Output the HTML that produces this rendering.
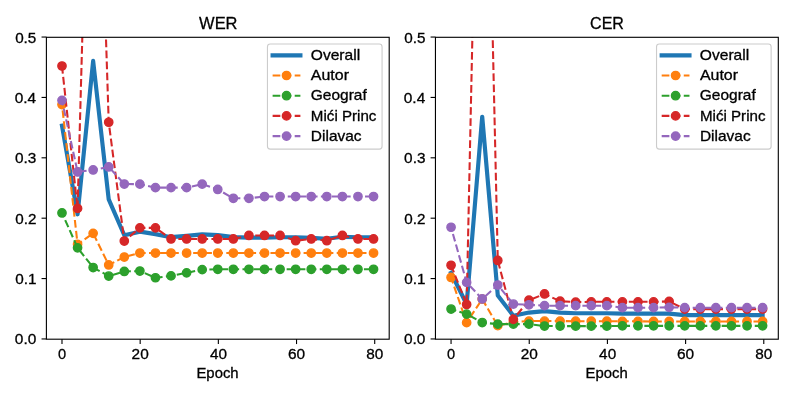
<!DOCTYPE html>
<html><head><meta charset="utf-8"><style>
html,body{margin:0;padding:0;background:#fff;width:793px;height:397px;overflow:hidden}
svg{display:block;font-family:"Liberation Sans",sans-serif;will-change:transform}
</style></head><body>
<svg width="793" height="397" viewBox="0 0 793 397" font-family="Liberation Sans, sans-serif"><rect width="793" height="397" fill="#fff"/><clipPath id="c1"><rect x="46.33" y="37.00" width="342.67" height="301.95"/></clipPath>
<g clip-path="url(#c1)">
<path d="M61.99 125.70 L77.57 214.28 L93.14 60.86 L108.72 199.43 L124.30 235.29 L139.88 231.67 L155.45 234.09 L171.03 237.17 L186.61 235.84 L202.19 234.39 L217.76 235.17 L233.34 237.17 L248.92 237.65 L264.50 237.65 L280.07 237.23 L295.65 237.23 L311.23 237.83 L326.81 238.74 L342.38 236.80 L357.96 237.23 L373.54 237.23" fill="none" stroke="#1f77b4" stroke-width="4.167" stroke-linecap="square" stroke-linejoin="round"/>
<path d="M61.99 104.57 L77.57 244.35 L93.14 233.36 L108.72 264.94 L124.30 257.03 L139.88 253.05 L155.45 253.05 L171.03 253.05 L186.61 253.05 L202.19 253.05 L217.76 253.05 L233.34 253.05 L248.92 253.05 L264.50 253.05 L280.07 253.05 L295.65 253.05 L311.23 253.05 L326.81 253.05 L342.38 253.05 L357.96 253.05 L373.54 253.05" fill="none" stroke="#ff7f0e" stroke-width="2.083" stroke-dasharray="7.708 3.333" stroke-dashoffset="5.30" stroke-linecap="butt" stroke-linejoin="round"/>
<circle cx="61.99" cy="104.57" r="4.167" fill="#ff7f0e" stroke="#ff7f0e" stroke-width="1.389"/>
<circle cx="77.57" cy="244.35" r="4.167" fill="#ff7f0e" stroke="#ff7f0e" stroke-width="1.389"/>
<circle cx="93.14" cy="233.36" r="4.167" fill="#ff7f0e" stroke="#ff7f0e" stroke-width="1.389"/>
<circle cx="108.72" cy="264.94" r="4.167" fill="#ff7f0e" stroke="#ff7f0e" stroke-width="1.389"/>
<circle cx="124.30" cy="257.03" r="4.167" fill="#ff7f0e" stroke="#ff7f0e" stroke-width="1.389"/>
<circle cx="139.88" cy="253.05" r="4.167" fill="#ff7f0e" stroke="#ff7f0e" stroke-width="1.389"/>
<circle cx="155.45" cy="253.05" r="4.167" fill="#ff7f0e" stroke="#ff7f0e" stroke-width="1.389"/>
<circle cx="171.03" cy="253.05" r="4.167" fill="#ff7f0e" stroke="#ff7f0e" stroke-width="1.389"/>
<circle cx="186.61" cy="253.05" r="4.167" fill="#ff7f0e" stroke="#ff7f0e" stroke-width="1.389"/>
<circle cx="202.19" cy="253.05" r="4.167" fill="#ff7f0e" stroke="#ff7f0e" stroke-width="1.389"/>
<circle cx="217.76" cy="253.05" r="4.167" fill="#ff7f0e" stroke="#ff7f0e" stroke-width="1.389"/>
<circle cx="233.34" cy="253.05" r="4.167" fill="#ff7f0e" stroke="#ff7f0e" stroke-width="1.389"/>
<circle cx="248.92" cy="253.05" r="4.167" fill="#ff7f0e" stroke="#ff7f0e" stroke-width="1.389"/>
<circle cx="264.50" cy="253.05" r="4.167" fill="#ff7f0e" stroke="#ff7f0e" stroke-width="1.389"/>
<circle cx="280.07" cy="253.05" r="4.167" fill="#ff7f0e" stroke="#ff7f0e" stroke-width="1.389"/>
<circle cx="295.65" cy="253.05" r="4.167" fill="#ff7f0e" stroke="#ff7f0e" stroke-width="1.389"/>
<circle cx="311.23" cy="253.05" r="4.167" fill="#ff7f0e" stroke="#ff7f0e" stroke-width="1.389"/>
<circle cx="326.81" cy="253.05" r="4.167" fill="#ff7f0e" stroke="#ff7f0e" stroke-width="1.389"/>
<circle cx="342.38" cy="253.05" r="4.167" fill="#ff7f0e" stroke="#ff7f0e" stroke-width="1.389"/>
<circle cx="357.96" cy="253.05" r="4.167" fill="#ff7f0e" stroke="#ff7f0e" stroke-width="1.389"/>
<circle cx="373.54" cy="253.05" r="4.167" fill="#ff7f0e" stroke="#ff7f0e" stroke-width="1.389"/>
<path d="M61.99 212.95 L77.57 247.85 L93.14 267.54 L108.72 276.05 L124.30 271.46 L139.88 271.04 L155.45 277.74 L171.03 275.93 L186.61 272.85 L202.19 269.65 L217.76 269.29 L233.34 269.29 L248.92 269.29 L264.50 269.29 L280.07 269.29 L295.65 269.29 L311.23 269.29 L326.81 269.29 L342.38 269.29 L357.96 269.29 L373.54 269.29" fill="none" stroke="#2ca02c" stroke-width="2.083" stroke-dasharray="7.708 3.333" stroke-dashoffset="3.20" stroke-linecap="butt" stroke-linejoin="round"/>
<circle cx="61.99" cy="212.95" r="4.167" fill="#2ca02c" stroke="#2ca02c" stroke-width="1.389"/>
<circle cx="77.57" cy="247.85" r="4.167" fill="#2ca02c" stroke="#2ca02c" stroke-width="1.389"/>
<circle cx="93.14" cy="267.54" r="4.167" fill="#2ca02c" stroke="#2ca02c" stroke-width="1.389"/>
<circle cx="108.72" cy="276.05" r="4.167" fill="#2ca02c" stroke="#2ca02c" stroke-width="1.389"/>
<circle cx="124.30" cy="271.46" r="4.167" fill="#2ca02c" stroke="#2ca02c" stroke-width="1.389"/>
<circle cx="139.88" cy="271.04" r="4.167" fill="#2ca02c" stroke="#2ca02c" stroke-width="1.389"/>
<circle cx="155.45" cy="277.74" r="4.167" fill="#2ca02c" stroke="#2ca02c" stroke-width="1.389"/>
<circle cx="171.03" cy="275.93" r="4.167" fill="#2ca02c" stroke="#2ca02c" stroke-width="1.389"/>
<circle cx="186.61" cy="272.85" r="4.167" fill="#2ca02c" stroke="#2ca02c" stroke-width="1.389"/>
<circle cx="202.19" cy="269.65" r="4.167" fill="#2ca02c" stroke="#2ca02c" stroke-width="1.389"/>
<circle cx="217.76" cy="269.29" r="4.167" fill="#2ca02c" stroke="#2ca02c" stroke-width="1.389"/>
<circle cx="233.34" cy="269.29" r="4.167" fill="#2ca02c" stroke="#2ca02c" stroke-width="1.389"/>
<circle cx="248.92" cy="269.29" r="4.167" fill="#2ca02c" stroke="#2ca02c" stroke-width="1.389"/>
<circle cx="264.50" cy="269.29" r="4.167" fill="#2ca02c" stroke="#2ca02c" stroke-width="1.389"/>
<circle cx="280.07" cy="269.29" r="4.167" fill="#2ca02c" stroke="#2ca02c" stroke-width="1.389"/>
<circle cx="295.65" cy="269.29" r="4.167" fill="#2ca02c" stroke="#2ca02c" stroke-width="1.389"/>
<circle cx="311.23" cy="269.29" r="4.167" fill="#2ca02c" stroke="#2ca02c" stroke-width="1.389"/>
<circle cx="326.81" cy="269.29" r="4.167" fill="#2ca02c" stroke="#2ca02c" stroke-width="1.389"/>
<circle cx="342.38" cy="269.29" r="4.167" fill="#2ca02c" stroke="#2ca02c" stroke-width="1.389"/>
<circle cx="357.96" cy="269.29" r="4.167" fill="#2ca02c" stroke="#2ca02c" stroke-width="1.389"/>
<circle cx="373.54" cy="269.29" r="4.167" fill="#2ca02c" stroke="#2ca02c" stroke-width="1.389"/>
<path d="M61.99 65.99 L77.57 208.43 L83.36 -1.00" fill="none" stroke="#d62728" stroke-width="2.083" stroke-dasharray="7.708 3.333" stroke-dashoffset="0.00" stroke-linecap="butt" stroke-linejoin="round"/>
<path d="M104.70 -1.00 L108.72 122.26 L124.30 241.03 L139.88 227.87 L155.45 227.87 L171.03 238.98 L186.61 238.98 L202.19 238.98 L217.76 238.98 L233.34 238.98 L248.92 235.48 L264.50 235.48 L280.07 235.48 L295.65 240.73 L311.23 238.98 L326.81 240.73 L342.38 235.48 L357.96 238.98 L373.54 238.98" fill="none" stroke="#d62728" stroke-width="2.083" stroke-dasharray="7.708 3.333" stroke-dashoffset="3.64" stroke-linecap="butt" stroke-linejoin="round"/>
<circle cx="61.99" cy="65.99" r="4.167" fill="#d62728" stroke="#d62728" stroke-width="1.389"/>
<circle cx="77.57" cy="208.43" r="4.167" fill="#d62728" stroke="#d62728" stroke-width="1.389"/>
<circle cx="108.72" cy="122.26" r="4.167" fill="#d62728" stroke="#d62728" stroke-width="1.389"/>
<circle cx="124.30" cy="241.03" r="4.167" fill="#d62728" stroke="#d62728" stroke-width="1.389"/>
<circle cx="139.88" cy="227.87" r="4.167" fill="#d62728" stroke="#d62728" stroke-width="1.389"/>
<circle cx="155.45" cy="227.87" r="4.167" fill="#d62728" stroke="#d62728" stroke-width="1.389"/>
<circle cx="171.03" cy="238.98" r="4.167" fill="#d62728" stroke="#d62728" stroke-width="1.389"/>
<circle cx="186.61" cy="238.98" r="4.167" fill="#d62728" stroke="#d62728" stroke-width="1.389"/>
<circle cx="202.19" cy="238.98" r="4.167" fill="#d62728" stroke="#d62728" stroke-width="1.389"/>
<circle cx="217.76" cy="238.98" r="4.167" fill="#d62728" stroke="#d62728" stroke-width="1.389"/>
<circle cx="233.34" cy="238.98" r="4.167" fill="#d62728" stroke="#d62728" stroke-width="1.389"/>
<circle cx="248.92" cy="235.48" r="4.167" fill="#d62728" stroke="#d62728" stroke-width="1.389"/>
<circle cx="264.50" cy="235.48" r="4.167" fill="#d62728" stroke="#d62728" stroke-width="1.389"/>
<circle cx="280.07" cy="235.48" r="4.167" fill="#d62728" stroke="#d62728" stroke-width="1.389"/>
<circle cx="295.65" cy="240.73" r="4.167" fill="#d62728" stroke="#d62728" stroke-width="1.389"/>
<circle cx="311.23" cy="238.98" r="4.167" fill="#d62728" stroke="#d62728" stroke-width="1.389"/>
<circle cx="326.81" cy="240.73" r="4.167" fill="#d62728" stroke="#d62728" stroke-width="1.389"/>
<circle cx="342.38" cy="235.48" r="4.167" fill="#d62728" stroke="#d62728" stroke-width="1.389"/>
<circle cx="357.96" cy="238.98" r="4.167" fill="#d62728" stroke="#d62728" stroke-width="1.389"/>
<circle cx="373.54" cy="238.98" r="4.167" fill="#d62728" stroke="#d62728" stroke-width="1.389"/>
<path d="M61.99 100.35 L77.57 171.96 L93.14 169.96 L108.72 166.94 L124.30 184.03 L139.88 184.15 L155.45 187.65 L171.03 187.65 L186.61 187.65 L202.19 184.15 L217.76 189.47 L233.34 198.28 L248.92 198.28 L264.50 196.53 L280.07 196.53 L295.65 196.53 L311.23 196.53 L326.81 196.53 L342.38 196.53 L357.96 196.53 L373.54 196.53" fill="none" stroke="#9467bd" stroke-width="2.083" stroke-dasharray="7.708 3.333" stroke-dashoffset="2.60" stroke-linecap="butt" stroke-linejoin="round"/>
<circle cx="61.99" cy="100.35" r="4.167" fill="#9467bd" stroke="#9467bd" stroke-width="1.389"/>
<circle cx="77.57" cy="171.96" r="4.167" fill="#9467bd" stroke="#9467bd" stroke-width="1.389"/>
<circle cx="93.14" cy="169.96" r="4.167" fill="#9467bd" stroke="#9467bd" stroke-width="1.389"/>
<circle cx="108.72" cy="166.94" r="4.167" fill="#9467bd" stroke="#9467bd" stroke-width="1.389"/>
<circle cx="124.30" cy="184.03" r="4.167" fill="#9467bd" stroke="#9467bd" stroke-width="1.389"/>
<circle cx="139.88" cy="184.15" r="4.167" fill="#9467bd" stroke="#9467bd" stroke-width="1.389"/>
<circle cx="155.45" cy="187.65" r="4.167" fill="#9467bd" stroke="#9467bd" stroke-width="1.389"/>
<circle cx="171.03" cy="187.65" r="4.167" fill="#9467bd" stroke="#9467bd" stroke-width="1.389"/>
<circle cx="186.61" cy="187.65" r="4.167" fill="#9467bd" stroke="#9467bd" stroke-width="1.389"/>
<circle cx="202.19" cy="184.15" r="4.167" fill="#9467bd" stroke="#9467bd" stroke-width="1.389"/>
<circle cx="217.76" cy="189.47" r="4.167" fill="#9467bd" stroke="#9467bd" stroke-width="1.389"/>
<circle cx="233.34" cy="198.28" r="4.167" fill="#9467bd" stroke="#9467bd" stroke-width="1.389"/>
<circle cx="248.92" cy="198.28" r="4.167" fill="#9467bd" stroke="#9467bd" stroke-width="1.389"/>
<circle cx="264.50" cy="196.53" r="4.167" fill="#9467bd" stroke="#9467bd" stroke-width="1.389"/>
<circle cx="280.07" cy="196.53" r="4.167" fill="#9467bd" stroke="#9467bd" stroke-width="1.389"/>
<circle cx="295.65" cy="196.53" r="4.167" fill="#9467bd" stroke="#9467bd" stroke-width="1.389"/>
<circle cx="311.23" cy="196.53" r="4.167" fill="#9467bd" stroke="#9467bd" stroke-width="1.389"/>
<circle cx="326.81" cy="196.53" r="4.167" fill="#9467bd" stroke="#9467bd" stroke-width="1.389"/>
<circle cx="342.38" cy="196.53" r="4.167" fill="#9467bd" stroke="#9467bd" stroke-width="1.389"/>
<circle cx="357.96" cy="196.53" r="4.167" fill="#9467bd" stroke="#9467bd" stroke-width="1.389"/>
<circle cx="373.54" cy="196.53" r="4.167" fill="#9467bd" stroke="#9467bd" stroke-width="1.389"/>
</g>
<rect x="46.40" y="37.30" width="342.80" height="301.90" fill="none" stroke="#000" stroke-width="1.111" stroke-linejoin="miter"/>
<line x1="41.54" y1="338.95" x2="46.40" y2="338.95" stroke="#000" stroke-width="1.111"/>
<text x="14.85" y="344.45" font-size="15.14" textLength="21.46" lengthAdjust="spacingAndGlyphs" fill="#000" stroke="#000" stroke-width="0.3">0.0</text>
<line x1="41.54" y1="278.57" x2="46.40" y2="278.57" stroke="#000" stroke-width="1.111"/>
<text x="15.21" y="284.07" font-size="15.14" textLength="21.23" lengthAdjust="spacingAndGlyphs" fill="#000" stroke="#000" stroke-width="0.3">0.1</text>
<line x1="41.54" y1="218.19" x2="46.40" y2="218.19" stroke="#000" stroke-width="1.111"/>
<text x="15.32" y="223.69" font-size="15.14" textLength="21.14" lengthAdjust="spacingAndGlyphs" fill="#000" stroke="#000" stroke-width="0.3">0.2</text>
<line x1="41.54" y1="157.81" x2="46.40" y2="157.81" stroke="#000" stroke-width="1.111"/>
<text x="15.04" y="163.31" font-size="15.14" textLength="21.33" lengthAdjust="spacingAndGlyphs" fill="#000" stroke="#000" stroke-width="0.3">0.3</text>
<line x1="41.54" y1="97.43" x2="46.40" y2="97.43" stroke="#000" stroke-width="1.111"/>
<text x="14.70" y="102.93" font-size="15.14" textLength="21.45" lengthAdjust="spacingAndGlyphs" fill="#000" stroke="#000" stroke-width="0.3">0.4</text>
<line x1="41.54" y1="37.05" x2="46.40" y2="37.05" stroke="#000" stroke-width="1.111"/>
<text x="15.15" y="42.55" font-size="15.14" textLength="21.19" lengthAdjust="spacingAndGlyphs" fill="#000" stroke="#000" stroke-width="0.3">0.5</text>
<line x1="61.99" y1="339.20" x2="61.99" y2="344.06" stroke="#000" stroke-width="1.111"/>
<text x="58.02" y="359.20" font-size="15.14" textLength="8.14" lengthAdjust="spacingAndGlyphs" fill="#000" stroke="#000" stroke-width="0.3">0</text>
<line x1="140.17" y1="339.20" x2="140.17" y2="344.06" stroke="#000" stroke-width="1.111"/>
<text x="131.63" y="359.20" font-size="15.14" textLength="17.11" lengthAdjust="spacingAndGlyphs" fill="#000" stroke="#000" stroke-width="0.3">20</text>
<line x1="218.35" y1="339.20" x2="218.35" y2="344.06" stroke="#000" stroke-width="1.111"/>
<text x="210.06" y="359.20" font-size="15.14" textLength="17.02" lengthAdjust="spacingAndGlyphs" fill="#000" stroke="#000" stroke-width="0.3">40</text>
<line x1="296.53" y1="339.20" x2="296.53" y2="344.06" stroke="#000" stroke-width="1.111"/>
<text x="287.96" y="359.20" font-size="15.14" textLength="17.17" lengthAdjust="spacingAndGlyphs" fill="#000" stroke="#000" stroke-width="0.3">60</text>
<line x1="374.71" y1="339.20" x2="374.71" y2="344.06" stroke="#000" stroke-width="1.111"/>
<text x="366.24" y="359.20" font-size="15.14" textLength="17.07" lengthAdjust="spacingAndGlyphs" fill="#000" stroke="#000" stroke-width="0.3">80</text>
<text x="196.45" y="378.00" font-size="14.72" textLength="42.17" lengthAdjust="spacingAndGlyphs" fill="#000" stroke="#000" stroke-width="0.3">Epoch</text>
<text x="199.11" y="28.60" font-size="17.00" textLength="38.39" lengthAdjust="spacingAndGlyphs" fill="#000" stroke="#000" stroke-width="0.3">WER</text>
<rect x="267.46" y="43.94" width="114.60" height="105.16" rx="2.8" ry="2.8" fill="#fff" fill-opacity="0.8" stroke="#cccccc" stroke-width="1.111"/>
<line x1="272.62" y1="55.30" x2="300.40" y2="55.30" stroke="#1f77b4" stroke-width="4.167" stroke-linecap="square"/>
<text x="310.80" y="59.90" font-size="14.31" textLength="49.33" lengthAdjust="spacingAndGlyphs" fill="#000" stroke="#000" stroke-width="0.3">Overall</text>
<line x1="272.62" y1="75.50" x2="300.40" y2="75.50" stroke="#ff7f0e" stroke-width="2.083" stroke-dasharray="7.708 3.333"/>
<circle cx="286.51" cy="75.50" r="4.167" fill="#ff7f0e" stroke="#ff7f0e" stroke-width="1.389"/>
<text x="310.84" y="80.10" font-size="14.31" textLength="38.14" lengthAdjust="spacingAndGlyphs" fill="#000" stroke="#000" stroke-width="0.3">Autor</text>
<line x1="272.62" y1="95.70" x2="300.40" y2="95.70" stroke="#2ca02c" stroke-width="2.083" stroke-dasharray="7.708 3.333"/>
<circle cx="286.51" cy="95.70" r="4.167" fill="#2ca02c" stroke="#2ca02c" stroke-width="1.389"/>
<text x="310.76" y="100.30" font-size="14.31" textLength="55.97" lengthAdjust="spacingAndGlyphs" fill="#000" stroke="#000" stroke-width="0.3">Geograf</text>
<line x1="272.62" y1="115.90" x2="300.40" y2="115.90" stroke="#d62728" stroke-width="2.083" stroke-dasharray="7.708 3.333"/>
<circle cx="286.51" cy="115.90" r="4.167" fill="#d62728" stroke="#d62728" stroke-width="1.389"/>
<text x="310.88" y="120.50" font-size="14.31" textLength="65.55" lengthAdjust="spacingAndGlyphs" fill="#000" stroke="#000" stroke-width="0.3">Mići Princ</text>
<line x1="272.62" y1="136.10" x2="300.40" y2="136.10" stroke="#9467bd" stroke-width="2.083" stroke-dasharray="7.708 3.333"/>
<circle cx="286.51" cy="136.10" r="4.167" fill="#9467bd" stroke="#9467bd" stroke-width="1.389"/>
<text x="310.85" y="140.70" font-size="14.31" textLength="50.74" lengthAdjust="spacingAndGlyphs" fill="#000" stroke="#000" stroke-width="0.3">Dilavac</text><clipPath id="c2"><rect x="435.40" y="37.00" width="342.67" height="301.95"/></clipPath>
<g clip-path="url(#c2)">
<path d="M451.06 272.83 L466.64 304.23 L482.21 116.75 L497.79 295.48 L513.37 315.70 L528.95 312.56 L544.52 311.11 L560.10 312.56 L575.68 313.29 L591.26 313.29 L606.83 313.29 L622.41 313.59 L637.99 313.59 L653.57 313.59 L669.14 313.59 L684.72 315.16 L700.30 315.16 L715.88 315.16 L731.45 315.16 L747.03 315.16 L762.61 315.16" fill="none" stroke="#1f77b4" stroke-width="4.167" stroke-linecap="square" stroke-linejoin="round"/>
<path d="M451.06 277.48 L466.64 322.65 L482.21 299.10 L497.79 325.67 L513.37 322.04 L528.95 321.08 L544.52 321.08 L560.10 321.08 L575.68 321.20 L591.26 321.20 L606.83 321.20 L622.41 321.32 L637.99 321.32 L653.57 321.44 L669.14 321.44 L684.72 321.44 L700.30 321.44 L715.88 321.44 L731.45 321.44 L747.03 321.44 L762.61 321.44" fill="none" stroke="#ff7f0e" stroke-width="2.083" stroke-dasharray="7.708 3.333" stroke-dashoffset="1.40" stroke-linecap="butt" stroke-linejoin="round"/>
<circle cx="451.06" cy="277.48" r="4.167" fill="#ff7f0e" stroke="#ff7f0e" stroke-width="1.389"/>
<circle cx="466.64" cy="322.65" r="4.167" fill="#ff7f0e" stroke="#ff7f0e" stroke-width="1.389"/>
<circle cx="482.21" cy="299.10" r="4.167" fill="#ff7f0e" stroke="#ff7f0e" stroke-width="1.389"/>
<circle cx="497.79" cy="325.67" r="4.167" fill="#ff7f0e" stroke="#ff7f0e" stroke-width="1.389"/>
<circle cx="513.37" cy="322.04" r="4.167" fill="#ff7f0e" stroke="#ff7f0e" stroke-width="1.389"/>
<circle cx="528.95" cy="321.08" r="4.167" fill="#ff7f0e" stroke="#ff7f0e" stroke-width="1.389"/>
<circle cx="544.52" cy="321.08" r="4.167" fill="#ff7f0e" stroke="#ff7f0e" stroke-width="1.389"/>
<circle cx="560.10" cy="321.08" r="4.167" fill="#ff7f0e" stroke="#ff7f0e" stroke-width="1.389"/>
<circle cx="575.68" cy="321.20" r="4.167" fill="#ff7f0e" stroke="#ff7f0e" stroke-width="1.389"/>
<circle cx="591.26" cy="321.20" r="4.167" fill="#ff7f0e" stroke="#ff7f0e" stroke-width="1.389"/>
<circle cx="606.83" cy="321.20" r="4.167" fill="#ff7f0e" stroke="#ff7f0e" stroke-width="1.389"/>
<circle cx="622.41" cy="321.32" r="4.167" fill="#ff7f0e" stroke="#ff7f0e" stroke-width="1.389"/>
<circle cx="637.99" cy="321.32" r="4.167" fill="#ff7f0e" stroke="#ff7f0e" stroke-width="1.389"/>
<circle cx="653.57" cy="321.44" r="4.167" fill="#ff7f0e" stroke="#ff7f0e" stroke-width="1.389"/>
<circle cx="669.14" cy="321.44" r="4.167" fill="#ff7f0e" stroke="#ff7f0e" stroke-width="1.389"/>
<circle cx="684.72" cy="321.44" r="4.167" fill="#ff7f0e" stroke="#ff7f0e" stroke-width="1.389"/>
<circle cx="700.30" cy="321.44" r="4.167" fill="#ff7f0e" stroke="#ff7f0e" stroke-width="1.389"/>
<circle cx="715.88" cy="321.44" r="4.167" fill="#ff7f0e" stroke="#ff7f0e" stroke-width="1.389"/>
<circle cx="731.45" cy="321.44" r="4.167" fill="#ff7f0e" stroke="#ff7f0e" stroke-width="1.389"/>
<circle cx="747.03" cy="321.44" r="4.167" fill="#ff7f0e" stroke="#ff7f0e" stroke-width="1.389"/>
<circle cx="762.61" cy="321.44" r="4.167" fill="#ff7f0e" stroke="#ff7f0e" stroke-width="1.389"/>
<path d="M451.06 309.06 L466.64 314.07 L482.21 322.53 L497.79 324.16 L513.37 324.16 L528.95 324.16 L544.52 326.03 L560.10 326.03 L575.68 326.15 L591.26 326.15 L606.83 326.15 L622.41 325.85 L637.99 325.85 L653.57 325.85 L669.14 325.85 L684.72 325.85 L700.30 325.85 L715.88 325.85 L731.45 325.85 L747.03 325.85 L762.61 325.85" fill="none" stroke="#2ca02c" stroke-width="2.083" stroke-dasharray="7.708 3.333" stroke-dashoffset="2.30" stroke-linecap="butt" stroke-linejoin="round"/>
<circle cx="451.06" cy="309.06" r="4.167" fill="#2ca02c" stroke="#2ca02c" stroke-width="1.389"/>
<circle cx="466.64" cy="314.07" r="4.167" fill="#2ca02c" stroke="#2ca02c" stroke-width="1.389"/>
<circle cx="482.21" cy="322.53" r="4.167" fill="#2ca02c" stroke="#2ca02c" stroke-width="1.389"/>
<circle cx="497.79" cy="324.16" r="4.167" fill="#2ca02c" stroke="#2ca02c" stroke-width="1.389"/>
<circle cx="513.37" cy="324.16" r="4.167" fill="#2ca02c" stroke="#2ca02c" stroke-width="1.389"/>
<circle cx="528.95" cy="324.16" r="4.167" fill="#2ca02c" stroke="#2ca02c" stroke-width="1.389"/>
<circle cx="544.52" cy="326.03" r="4.167" fill="#2ca02c" stroke="#2ca02c" stroke-width="1.389"/>
<circle cx="560.10" cy="326.03" r="4.167" fill="#2ca02c" stroke="#2ca02c" stroke-width="1.389"/>
<circle cx="575.68" cy="326.15" r="4.167" fill="#2ca02c" stroke="#2ca02c" stroke-width="1.389"/>
<circle cx="591.26" cy="326.15" r="4.167" fill="#2ca02c" stroke="#2ca02c" stroke-width="1.389"/>
<circle cx="606.83" cy="326.15" r="4.167" fill="#2ca02c" stroke="#2ca02c" stroke-width="1.389"/>
<circle cx="622.41" cy="325.85" r="4.167" fill="#2ca02c" stroke="#2ca02c" stroke-width="1.389"/>
<circle cx="637.99" cy="325.85" r="4.167" fill="#2ca02c" stroke="#2ca02c" stroke-width="1.389"/>
<circle cx="653.57" cy="325.85" r="4.167" fill="#2ca02c" stroke="#2ca02c" stroke-width="1.389"/>
<circle cx="669.14" cy="325.85" r="4.167" fill="#2ca02c" stroke="#2ca02c" stroke-width="1.389"/>
<circle cx="684.72" cy="325.85" r="4.167" fill="#2ca02c" stroke="#2ca02c" stroke-width="1.389"/>
<circle cx="700.30" cy="325.85" r="4.167" fill="#2ca02c" stroke="#2ca02c" stroke-width="1.389"/>
<circle cx="715.88" cy="325.85" r="4.167" fill="#2ca02c" stroke="#2ca02c" stroke-width="1.389"/>
<circle cx="731.45" cy="325.85" r="4.167" fill="#2ca02c" stroke="#2ca02c" stroke-width="1.389"/>
<circle cx="747.03" cy="325.85" r="4.167" fill="#2ca02c" stroke="#2ca02c" stroke-width="1.389"/>
<circle cx="762.61" cy="325.85" r="4.167" fill="#2ca02c" stroke="#2ca02c" stroke-width="1.389"/>
<path d="M451.06 265.29 L466.64 304.47 L473.19 -1.00" fill="none" stroke="#d62728" stroke-width="2.083" stroke-dasharray="7.708 3.333" stroke-dashoffset="0.00" stroke-linecap="butt" stroke-linejoin="round"/>
<path d="M491.82 -1.00 L497.79 260.46 L513.37 319.33 L528.95 300.19 L544.52 293.97 L560.10 301.21 L575.68 302.12 L591.26 301.82 L606.83 301.82 L622.41 301.82 L637.99 301.82 L653.57 301.82 L669.14 301.39 L684.72 309.12 L700.30 309.12 L715.88 309.12 L731.45 309.12 L747.03 309.12 L762.61 309.12" fill="none" stroke="#d62728" stroke-width="2.083" stroke-dasharray="7.708 3.333" stroke-dashoffset="2.90" stroke-linecap="butt" stroke-linejoin="round"/>
<circle cx="451.06" cy="265.29" r="4.167" fill="#d62728" stroke="#d62728" stroke-width="1.389"/>
<circle cx="466.64" cy="304.47" r="4.167" fill="#d62728" stroke="#d62728" stroke-width="1.389"/>
<circle cx="497.79" cy="260.46" r="4.167" fill="#d62728" stroke="#d62728" stroke-width="1.389"/>
<circle cx="513.37" cy="319.33" r="4.167" fill="#d62728" stroke="#d62728" stroke-width="1.389"/>
<circle cx="528.95" cy="300.19" r="4.167" fill="#d62728" stroke="#d62728" stroke-width="1.389"/>
<circle cx="544.52" cy="293.97" r="4.167" fill="#d62728" stroke="#d62728" stroke-width="1.389"/>
<circle cx="560.10" cy="301.21" r="4.167" fill="#d62728" stroke="#d62728" stroke-width="1.389"/>
<circle cx="575.68" cy="302.12" r="4.167" fill="#d62728" stroke="#d62728" stroke-width="1.389"/>
<circle cx="591.26" cy="301.82" r="4.167" fill="#d62728" stroke="#d62728" stroke-width="1.389"/>
<circle cx="606.83" cy="301.82" r="4.167" fill="#d62728" stroke="#d62728" stroke-width="1.389"/>
<circle cx="622.41" cy="301.82" r="4.167" fill="#d62728" stroke="#d62728" stroke-width="1.389"/>
<circle cx="637.99" cy="301.82" r="4.167" fill="#d62728" stroke="#d62728" stroke-width="1.389"/>
<circle cx="653.57" cy="301.82" r="4.167" fill="#d62728" stroke="#d62728" stroke-width="1.389"/>
<circle cx="669.14" cy="301.39" r="4.167" fill="#d62728" stroke="#d62728" stroke-width="1.389"/>
<circle cx="684.72" cy="309.12" r="4.167" fill="#d62728" stroke="#d62728" stroke-width="1.389"/>
<circle cx="700.30" cy="309.12" r="4.167" fill="#d62728" stroke="#d62728" stroke-width="1.389"/>
<circle cx="715.88" cy="309.12" r="4.167" fill="#d62728" stroke="#d62728" stroke-width="1.389"/>
<circle cx="731.45" cy="309.12" r="4.167" fill="#d62728" stroke="#d62728" stroke-width="1.389"/>
<circle cx="747.03" cy="309.12" r="4.167" fill="#d62728" stroke="#d62728" stroke-width="1.389"/>
<circle cx="762.61" cy="309.12" r="4.167" fill="#d62728" stroke="#d62728" stroke-width="1.389"/>
<path d="M451.06 227.25 L466.64 282.43 L482.21 298.98 L497.79 285.03 L513.37 304.05 L528.95 304.77 L544.52 305.68 L560.10 305.68 L575.68 305.68 L591.26 305.68 L606.83 305.68 L622.41 307.67 L637.99 307.67 L653.57 307.67 L669.14 307.37 L684.72 307.67 L700.30 307.67 L715.88 307.67 L731.45 307.67 L747.03 307.67 L762.61 307.67" fill="none" stroke="#9467bd" stroke-width="2.083" stroke-dasharray="7.708 3.333" stroke-dashoffset="4.10" stroke-linecap="butt" stroke-linejoin="round"/>
<circle cx="451.06" cy="227.25" r="4.167" fill="#9467bd" stroke="#9467bd" stroke-width="1.389"/>
<circle cx="466.64" cy="282.43" r="4.167" fill="#9467bd" stroke="#9467bd" stroke-width="1.389"/>
<circle cx="482.21" cy="298.98" r="4.167" fill="#9467bd" stroke="#9467bd" stroke-width="1.389"/>
<circle cx="497.79" cy="285.03" r="4.167" fill="#9467bd" stroke="#9467bd" stroke-width="1.389"/>
<circle cx="513.37" cy="304.05" r="4.167" fill="#9467bd" stroke="#9467bd" stroke-width="1.389"/>
<circle cx="528.95" cy="304.77" r="4.167" fill="#9467bd" stroke="#9467bd" stroke-width="1.389"/>
<circle cx="544.52" cy="305.68" r="4.167" fill="#9467bd" stroke="#9467bd" stroke-width="1.389"/>
<circle cx="560.10" cy="305.68" r="4.167" fill="#9467bd" stroke="#9467bd" stroke-width="1.389"/>
<circle cx="575.68" cy="305.68" r="4.167" fill="#9467bd" stroke="#9467bd" stroke-width="1.389"/>
<circle cx="591.26" cy="305.68" r="4.167" fill="#9467bd" stroke="#9467bd" stroke-width="1.389"/>
<circle cx="606.83" cy="305.68" r="4.167" fill="#9467bd" stroke="#9467bd" stroke-width="1.389"/>
<circle cx="622.41" cy="307.67" r="4.167" fill="#9467bd" stroke="#9467bd" stroke-width="1.389"/>
<circle cx="637.99" cy="307.67" r="4.167" fill="#9467bd" stroke="#9467bd" stroke-width="1.389"/>
<circle cx="653.57" cy="307.67" r="4.167" fill="#9467bd" stroke="#9467bd" stroke-width="1.389"/>
<circle cx="669.14" cy="307.37" r="4.167" fill="#9467bd" stroke="#9467bd" stroke-width="1.389"/>
<circle cx="684.72" cy="307.67" r="4.167" fill="#9467bd" stroke="#9467bd" stroke-width="1.389"/>
<circle cx="700.30" cy="307.67" r="4.167" fill="#9467bd" stroke="#9467bd" stroke-width="1.389"/>
<circle cx="715.88" cy="307.67" r="4.167" fill="#9467bd" stroke="#9467bd" stroke-width="1.389"/>
<circle cx="731.45" cy="307.67" r="4.167" fill="#9467bd" stroke="#9467bd" stroke-width="1.389"/>
<circle cx="747.03" cy="307.67" r="4.167" fill="#9467bd" stroke="#9467bd" stroke-width="1.389"/>
<circle cx="762.61" cy="307.67" r="4.167" fill="#9467bd" stroke="#9467bd" stroke-width="1.389"/>
</g>
<rect x="435.45" y="37.30" width="342.85" height="301.90" fill="none" stroke="#000" stroke-width="1.111" stroke-linejoin="miter"/>
<line x1="430.59" y1="338.95" x2="435.45" y2="338.95" stroke="#000" stroke-width="1.111"/>
<text x="403.92" y="344.45" font-size="15.14" textLength="21.46" lengthAdjust="spacingAndGlyphs" fill="#000" stroke="#000" stroke-width="0.3">0.0</text>
<line x1="430.59" y1="278.57" x2="435.45" y2="278.57" stroke="#000" stroke-width="1.111"/>
<text x="404.28" y="284.07" font-size="15.14" textLength="21.23" lengthAdjust="spacingAndGlyphs" fill="#000" stroke="#000" stroke-width="0.3">0.1</text>
<line x1="430.59" y1="218.19" x2="435.45" y2="218.19" stroke="#000" stroke-width="1.111"/>
<text x="404.39" y="223.69" font-size="15.14" textLength="21.14" lengthAdjust="spacingAndGlyphs" fill="#000" stroke="#000" stroke-width="0.3">0.2</text>
<line x1="430.59" y1="157.81" x2="435.45" y2="157.81" stroke="#000" stroke-width="1.111"/>
<text x="404.11" y="163.31" font-size="15.14" textLength="21.33" lengthAdjust="spacingAndGlyphs" fill="#000" stroke="#000" stroke-width="0.3">0.3</text>
<line x1="430.59" y1="97.43" x2="435.45" y2="97.43" stroke="#000" stroke-width="1.111"/>
<text x="403.77" y="102.93" font-size="15.14" textLength="21.45" lengthAdjust="spacingAndGlyphs" fill="#000" stroke="#000" stroke-width="0.3">0.4</text>
<line x1="430.59" y1="37.05" x2="435.45" y2="37.05" stroke="#000" stroke-width="1.111"/>
<text x="404.22" y="42.55" font-size="15.14" textLength="21.19" lengthAdjust="spacingAndGlyphs" fill="#000" stroke="#000" stroke-width="0.3">0.5</text>
<line x1="451.06" y1="339.20" x2="451.06" y2="344.06" stroke="#000" stroke-width="1.111"/>
<text x="447.09" y="359.20" font-size="15.14" textLength="8.14" lengthAdjust="spacingAndGlyphs" fill="#000" stroke="#000" stroke-width="0.3">0</text>
<line x1="529.24" y1="339.20" x2="529.24" y2="344.06" stroke="#000" stroke-width="1.111"/>
<text x="520.70" y="359.20" font-size="15.14" textLength="17.11" lengthAdjust="spacingAndGlyphs" fill="#000" stroke="#000" stroke-width="0.3">20</text>
<line x1="607.42" y1="339.20" x2="607.42" y2="344.06" stroke="#000" stroke-width="1.111"/>
<text x="599.13" y="359.20" font-size="15.14" textLength="17.02" lengthAdjust="spacingAndGlyphs" fill="#000" stroke="#000" stroke-width="0.3">40</text>
<line x1="685.60" y1="339.20" x2="685.60" y2="344.06" stroke="#000" stroke-width="1.111"/>
<text x="677.03" y="359.20" font-size="15.14" textLength="17.17" lengthAdjust="spacingAndGlyphs" fill="#000" stroke="#000" stroke-width="0.3">60</text>
<line x1="763.78" y1="339.20" x2="763.78" y2="344.06" stroke="#000" stroke-width="1.111"/>
<text x="755.31" y="359.20" font-size="15.14" textLength="17.07" lengthAdjust="spacingAndGlyphs" fill="#000" stroke="#000" stroke-width="0.3">80</text>
<text x="585.52" y="378.00" font-size="14.72" textLength="42.17" lengthAdjust="spacingAndGlyphs" fill="#000" stroke="#000" stroke-width="0.3">Epoch</text>
<text x="590.05" y="28.60" font-size="17.00" textLength="33.89" lengthAdjust="spacingAndGlyphs" fill="#000" stroke="#000" stroke-width="0.3">CER</text>
<rect x="656.53" y="43.94" width="114.60" height="105.16" rx="2.8" ry="2.8" fill="#fff" fill-opacity="0.8" stroke="#cccccc" stroke-width="1.111"/>
<line x1="661.69" y1="55.30" x2="689.47" y2="55.30" stroke="#1f77b4" stroke-width="4.167" stroke-linecap="square"/>
<text x="699.87" y="59.90" font-size="14.31" textLength="49.33" lengthAdjust="spacingAndGlyphs" fill="#000" stroke="#000" stroke-width="0.3">Overall</text>
<line x1="661.69" y1="75.50" x2="689.47" y2="75.50" stroke="#ff7f0e" stroke-width="2.083" stroke-dasharray="7.708 3.333"/>
<circle cx="675.58" cy="75.50" r="4.167" fill="#ff7f0e" stroke="#ff7f0e" stroke-width="1.389"/>
<text x="699.91" y="80.10" font-size="14.31" textLength="38.14" lengthAdjust="spacingAndGlyphs" fill="#000" stroke="#000" stroke-width="0.3">Autor</text>
<line x1="661.69" y1="95.70" x2="689.47" y2="95.70" stroke="#2ca02c" stroke-width="2.083" stroke-dasharray="7.708 3.333"/>
<circle cx="675.58" cy="95.70" r="4.167" fill="#2ca02c" stroke="#2ca02c" stroke-width="1.389"/>
<text x="699.83" y="100.30" font-size="14.31" textLength="55.97" lengthAdjust="spacingAndGlyphs" fill="#000" stroke="#000" stroke-width="0.3">Geograf</text>
<line x1="661.69" y1="115.90" x2="689.47" y2="115.90" stroke="#d62728" stroke-width="2.083" stroke-dasharray="7.708 3.333"/>
<circle cx="675.58" cy="115.90" r="4.167" fill="#d62728" stroke="#d62728" stroke-width="1.389"/>
<text x="699.95" y="120.50" font-size="14.31" textLength="65.55" lengthAdjust="spacingAndGlyphs" fill="#000" stroke="#000" stroke-width="0.3">Mići Princ</text>
<line x1="661.69" y1="136.10" x2="689.47" y2="136.10" stroke="#9467bd" stroke-width="2.083" stroke-dasharray="7.708 3.333"/>
<circle cx="675.58" cy="136.10" r="4.167" fill="#9467bd" stroke="#9467bd" stroke-width="1.389"/>
<text x="699.92" y="140.70" font-size="14.31" textLength="50.74" lengthAdjust="spacingAndGlyphs" fill="#000" stroke="#000" stroke-width="0.3">Dilavac</text></svg>
</body></html>
